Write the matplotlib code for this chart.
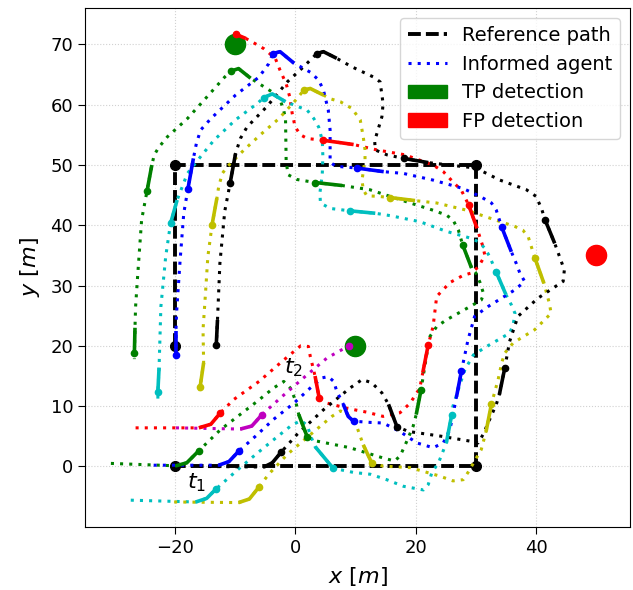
import matplotlib
matplotlib.use('Agg')
import matplotlib.pyplot as plt
from matplotlib.patches import Patch
from matplotlib.lines import Line2D

# Reference path vertices
ref_x = [-20, -20, 30, 30, -20]
ref_y = [20, 50, 50, 0, 0]

# Detections
tp_x = [-10, 10]
tp_y = [70, 20]
fp_x = [50]
fp_y = [35]

# Agent trajectories (waypoints)
black_path = [(-16, 0), (-5.2, -0.1), (-3.8, 0.6), (-2.3, 2.4), (0.3, 5.3), (4.7, 9.4), (9.1, 13),
              (11.1, 14.4), (12.7, 13.9), (14.4, 12.2), (15.5, 10.3), (16.9, 6.6), (18.8, 5.8), (24.3, 5),
              (29, 4.2), (30.4, 3.9), (31.2, 5.3), (33.4, 10.3), (33.9, 11.9), (34.8, 16.3), (35.6, 20.7),
              (37, 24.9), (40.3, 27.9), (44.5, 30.7), (44.7, 32.6), (43.9, 34.8), (43.1, 37), (41.5, 40.9),
              (40.9, 42.8), (40, 44.8), (38.4, 45.9), (34, 47.5), (30, 49.5), (22.1, 50.4), (18, 51.1),
              (15.2, 51.7), (13.3, 52.5), (13.2, 54), (14.4, 58), (14.6, 60.2), (14.1, 63.8), (13, 64.6),
              (9.4, 66.3), (6.9, 67.7), (4.7, 68.8), (3.6, 68.5), (1.4, 66.3), (-1.3, 63.8), (-4.7, 59.7),
              (-8, 56.3), (-9.1, 54.4), (-9.9, 51.9), (-10.8, 47), (-11.7, 42.3), (-12.5, 33.7),
              (-12.9, 24.3), (-13.1, 20.2), (-13.1, 19.3)]
black_snaps = [(1, 3), (10, 11), (18, 19), (26, 27), (33, 34), (43, 45), (51, 52), (55, 56)]

blue_path = [(-23.5, 0.2), (-12.7, 0.2), (-11, 0.8), (-9.4, 2.5), (-6.6, 5), (-3.6, 7.8), (-0.2, 10.5),
             (2.5, 13), (4.5, 14.7), (5.5, 14.9), (6.4, 14.1), (6.9, 12.5), (8, 10.3), (8.8, 8.3), (9.7, 7.5),
             (12.5, 7.3), (14.6, 7.2), (17.4, 5.8), (20.2, 3.9), (22.9, 3.1), (24.6, 3.9), (25.7, 6.1),
             (26.8, 11.6), (27.6, 15.8), (28.7, 21), (29.8, 24.9), (32, 26.5), (36.5, 29.3), (38.1, 30.7),
             (37.3, 32.1), (36.7, 33.7), (35.9, 35.6), (34.3, 39.7), (33.4, 42.5), (32.6, 43.7), (30.7, 44.8),
             (27.9, 46.1), (22.9, 47.5), (18, 48.6), (14.7, 48.9), (10.2, 49.5), (6.7, 49.8), (5.8, 50.5),
             (5.8, 55.8), (5.5, 59.1), (4.7, 62.4), (3.9, 64.1), (2.5, 65.4), (0.9, 66.3), (-0.2, 66.9),
             (-2.5, 68.8), (-3.7, 68.5), (-4.4, 66.8), (-6, 64.6), (-9.9, 61.6), (-14, 57.7), (-15.7, 55.8),
             (-16.4, 53.6), (-16.9, 51.1), (-17.8, 46.1), (-18.5, 42), (-19.1, 34.3), (-19.7, 25.4),
             (-19.8, 22.4), (-19.8, 18.5)]
blue_snaps = [(1, 3), (12, 14), (22, 23), (31, 32), (39, 40), (49, 51), (58, 59), (63, 64)]

green_path = [(-30.6, 0.5), (-19.8, 0.1), (-18, 0.6), (-16, 2.6), (-12.4, 6.1), (-6.3, 10.8), (-3.6, 13),
              (-1.9, 14.1), (-0.8, 13), (0, 11.1), (0.6, 8.6), (2, 4.9), (3.6, 4.2), (9.1, 3.1), (14.6, 1.4),
              (16.5, 0.9), (17.4, 1.7), (18.2, 3.4), (19.6, 6.7), (20.1, 8.6), (20.9, 12.7), (21.8, 18.3),
              (22.4, 21.6), (23.5, 23.2), (25.1, 24.3), (29, 26.5), (30.9, 27.6), (31.3, 28.6), (30.7, 30.5),
              (30, 32.1), (29.3, 32.9), (27.8, 36.8), (27.1, 39.2), (26.2, 40.9), (25.1, 41.7), (22.9, 42.5),
              (18.5, 43.9), (12.4, 45.9), (7.8, 46.6), (3.3, 47.1), (0.3, 47.6), (-1.2, 48.4), (-1.5, 50.8),
              (-1.6, 57.5), (-1.9, 59.1), (-2.5, 60.8), (-3.8, 62.1), (-7.4, 64.4), (-9.4, 66), (-10.6, 65.6),
              (-11.7, 64.6), (-15.1, 60.8), (-17.9, 57.7), (-21.2, 54.7), (-22.6, 53), (-23.4, 51.7),
              (-23.8, 50), (-24.6, 45.7), (-25.5, 40.9), (-26.2, 31), (-26.5, 26.5), (-26.6, 23),
              (-26.7, 18.8), (-26.7, 17.8)]
green_snaps = [(1, 3), (10, 11), (19, 20), (30, 31), (38, 39), (47, 49), (56, 57), (61, 62)]

red_path = [(-26.5, 6.4), (-16, 6.4), (-14, 7), (-12.4, 8.9), (-10.2, 11.1), (-6, 14.1), (-2.2, 17.4),
            (0.9, 20), (2.2, 19.9), (2.5, 18.3), (3.3, 15), (4, 11.3), (5.3, 10.5), (8.8, 9.6), (11.9, 9.0),
            (14.6, 8.3), (17.4, 8.9), (19.1, 10.5), (20.7, 13), (21.2, 15.6), (22.1, 20.2), (22.9, 23.2),
            (23.5, 28.2), (25.7, 30.5), (27.9, 31.7), (29.3, 32.1), (30.5, 33.2), (31.5, 35), (31.2, 36.4),
            (30.2, 39.5), (28.8, 43.4), (27.6, 45.8), (26.2, 47.2), (24.6, 48.9), (22.9, 50), (18.2, 51.7),
            (13.6, 52.5), (9.7, 53.4), (4.7, 54.1), (2, 54.4), (0.9, 55), (0, 56.3), (-0.5, 58.6),
            (-0.9, 61.3), (-1.5, 63.5), (-2.5, 65.7), (-3.3, 67.7), (-5.2, 69.3), (-7.1, 70.4), (-8.2, 71),
            (-9.9, 71.7)]
red_snaps = [(1, 3), (10, 11), (19, 20), (29, 30), (37, 38), (49, 50)]

cyan_path = [(-27.3, -5.6), (-16.5, -5.9), (-14.7, -5.3), (-13.2, -3.8), (-9.6, -0.6), (-6.3, 2.2),
             (-3, 4.9), (-0.5, 6.9), (1, 7.6), (2, 6.8), (2.6, 5), (3.3, 3.3), (6.3, -0.3), (9.7, -1),
             (12.5, -1.3), (15.2, -2.2), (18, -3.3), (21.3, -3.9), (22.1, -3), (22.7, -1), (23.8, 0.6),
             (25.1, 3.9), (26, 8.6), (26.2, 10), (27.5, 14), (28.2, 16.1), (29.6, 18.5), (31.8, 19.9),
             (35.6, 22.1), (36.2, 23.5), (36.5, 25.4), (35.9, 26.8), (35, 28.5), (33.4, 32.2), (32.3, 34.8),
             (31.5, 36.2), (30.4, 37.3), (29, 37.9), (25.1, 39), (20.7, 40.6), (15.8, 41.6), (13.3, 42),
             (9.1, 42.4), (5.8, 42.8), (4.2, 43.7), (4.1, 45.3), (4.5, 48.5), (4.6, 51.4), (4.5, 54.1),
             (3.9, 56.3), (3.1, 57.7), (2, 59.1), (-1.6, 60.5), (-3.8, 61.8), (-5.2, 61.2), (-6.3, 60.2),
             (-9.9, 57.5), (-13.5, 54.1), (-15.7, 51.4), (-17.9, 48.6), (-19.6, 44.2), (-20.7, 40.3),
             (-21.5, 34.8), (-22.3, 26.5), (-22.6, 16.4), (-22.8, 12.4), (-22.8, 11.1)]
cyan_snaps = [(1, 3), (11, 12), (21, 22), (32, 33), (41, 42), (52, 54), (60, 61), (64, 65)]

yellow_path = [(-20.1, -5.9), (-9.4, -6), (-7.6, -5.4), (-6, -3.4), (-4.4, -1.3), (-1.3, 2), (2.2, 5),
               (6.1, 8.3), (7.5, 9.2), (8.6, 8.8), (10.2, 6.7), (11.3, 3.6), (12.7, 0.6), (14.6, 0.05),
               (19.1, -0.2), (24, -1.6), (26.2, -2.4), (27.9, -2.2), (28.7, -1), (29.8, 0.9), (30.9, 2.8),
               (31.7, 5.8), (32.6, 10.4), (33.7, 14.4), (34.3, 17.2), (34.8, 18.8), (36.2, 20.5), (39.8, 22.7),
               (42.5, 25.4), (42.2, 27.1), (41.3, 30.4), (39.8, 34.6), (39.2, 36.5), (38.7, 38.1), (37.8, 39.2),
               (36.5, 39.8), (32.3, 41.2), (28.5, 42.5), (23.5, 43.7), (19.9, 44.1), (15.8, 44.6), (13.8, 44.8),
               (11.9, 44.9), (11.3, 45.9), (11.1, 47.5), (11.6, 50.8), (11.6, 52.5), (11.3, 54.7), (10.8, 57.5),
               (9.4, 59.4), (7.5, 60.5), (5.8, 61), (4.7, 61.6), (2.5, 62.7), (1.4, 62.4), (0.3, 61),
               (-2.7, 57.7), (-5.8, 55), (-8.5, 52.5), (-11.3, 49.7), (-12.1, 48.6), (-12.7, 46.4), (-13, 44.5),
               (-13.8, 40.1), (-14.5, 34.8), (-15, 27.1), (-15.3, 22.7), (-15.2, 17.2), (-15.8, 13.1),
               (-15.8, 11.6)]
yellow_snaps = [(1, 3), (11, 12), (21, 22), (30, 31), (39, 40), (52, 54), (62, 63), (67, 68)]

magenta_path = [(-19.8, 6.4), (-9.1, 6.2), (-7.2, 6.7), (-5.5, 8.6), (-2.4, 11.4), (1.4, 14.7), (5.3, 18),
                (8.9, 20)]
magenta_snaps = [(1, 3), (7, 7)]

agents = [
    ('r', red_path, red_snaps),
    ('g', green_path, green_snaps),
    ('c', cyan_path, cyan_snaps),
    ('y', yellow_path, yellow_snaps),
    ('k', black_path, black_snaps),
    ('m', magenta_path, magenta_snaps),
    ('b', blue_path, blue_snaps),
]

time_labels = [r'$t_1$', r'$t_2$']
time_label_x = [-16.3, -0.3]
time_label_y = [-2.7, 16.4]

fig = plt.figure(figsize=(6.33, 5.9), dpi=100)
ax = fig.add_axes([85 / 633, (590 - 526.7) / 590, 545 / 633, 518.4 / 590])

ax.grid(True, color='0.82', linestyle=':', linewidth=0.8, zorder=0)
ax.set_axisbelow(True)

# reference path
ax.plot(ref_x, ref_y, color='k', lw=2.8, dashes=(3.3, 1.3), zorder=2)
ax.plot(ref_x, ref_y, 'o', color='k', ms=7, zorder=2)

for col, path, snaps in agents:
    xs = [p[0] for p in path]
    ys = [p[1] for p in path]
    ax.plot(xs, ys, color=col, lw=2.2, dashes=(1, 2.0), zorder=3)
    for i0, i1 in snaps:
        ax.plot(xs[i0:i1 + 1], ys[i0:i1 + 1], color=col, lw=2.6, solid_capstyle='butt', zorder=4)
        ax.plot(xs[i1], ys[i1], 'o', color=col, ms=4.5, zorder=4)

ax.plot(tp_x, tp_y, 'o', color='g', ms=14.5, zorder=3)
ax.plot(fp_x, fp_y, 'o', color='r', ms=14.5, zorder=3)

for lab, tx, ty in zip(time_labels, time_label_x, time_label_y):
    ax.text(tx, ty, lab, fontsize=16, ha='center', va='center', zorder=5)

ax.set_xlim(-34.9, 55.6)
ax.set_ylim(-10, 76)
ax.set_xticks([-20, 0, 20, 40])
ax.set_yticks([0, 10, 20, 30, 40, 50, 60, 70])
ax.tick_params(labelsize=13, length=5)
ax.set_xlabel(r'$x$ $[m]$', fontsize=16, labelpad=6)
ax.set_ylabel(r'$y$ $[m]$', fontsize=16, labelpad=6)

handles = [Line2D([], [], color='k', lw=2.8, dashes=(3.3, 1.3)),
           Line2D([], [], color='b', lw=2.2, dashes=(1, 2.0)),
           Patch(color='g'), Patch(color='r')]
labels = ['Reference path', 'Informed agent', 'TP detection', 'FP detection']
ax.legend(handles, labels, loc='upper right', fontsize=14)

fig.savefig('out.png', dpi=100)
